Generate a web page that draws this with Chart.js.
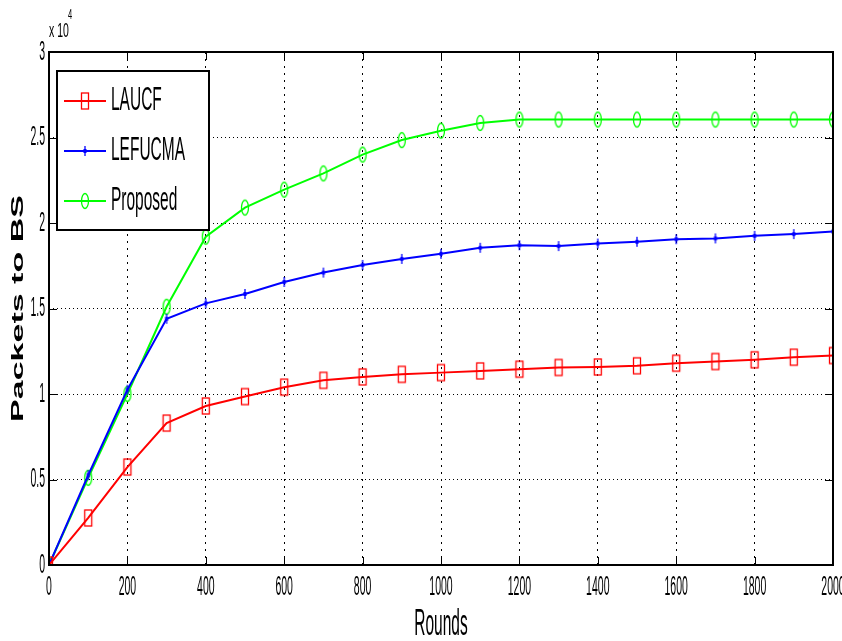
<!DOCTYPE html>
<html lang="en">
<head>
<meta charset="UTF-8">
<title>Packets to BS</title>
<style>
  body { margin: 0; background: #fff; }
  #wrap { width: 842px; height: 641px; }
</style>
<script src="https://cdn.jsdelivr.net/npm/chart.js"></script>
</head>
<body>
<div id="wrap"><canvas id="myChart" width="842" height="641"></canvas></div>
<script>
// data (packets, raw values; axis shown in x10^4)
var rounds = [0, 100, 200, 300, 400, 500, 600, 700, 800, 900, 1000, 1100, 1200, 1300, 1400, 1500, 1600, 1700, 1800, 1900, 2000];
var laucf = [0, 2750, 5730, 8300, 9300, 9850, 10400, 10800, 11000, 11150, 11250, 11350, 11450, 11550, 11580, 11650, 11800, 11900, 12000, 12150, 12250];
var lefucma = [0, 5250, 10250, 14400, 15300, 15850, 16550, 17100, 17550, 17900, 18200, 18550, 18700, 18650, 18800, 18900, 19050, 19100, 19250, 19350, 19500];
var proposed = [0, 5100, 10000, 15100, 19200, 20900, 21950, 22900, 24000, 24850, 25400, 25850, 26050, 26050, 26050, 26050, 26050, 26050, 26050, 26050, 26050];
var seriesNames = ['LAUCF', 'LEFUCMA', 'Proposed'];
var xTicks = [0, 200, 400, 600, 800, 1000, 1200, 1400, 1600, 1800, 2000];
var yTicks = [0, 5000, 10000, 15000, 20000, 25000, 30000];

var FONT = "'Liberation Sans', Arial, sans-serif";

function pts(arr) {
    return rounds.map(function (r, i) { return { x: r, y: arr[i] }; });
}

// the reference is stretched vertically, so text is drawn tall and narrow
function tallText(ctx, text, x, y, size, sy, align, weight) {
    ctx.save();
    ctx.translate(x, y);
    ctx.scale(1, sy);
    ctx.font = (weight || 'normal') + ' ' + size + 'px ' + FONT;
    ctx.textAlign = align || 'left';
    ctx.textBaseline = 'middle';
    ctx.fillStyle = '#000';
    ctx.fillText(text, 0, 0);
    ctx.restore();
}

// marker images (MATLAB-like, stretched tall)
function makeMarker(kind, color) {
    var c = document.createElement('canvas');
    c.width = 12; c.height = 20;
    var g = c.getContext('2d');
    g.strokeStyle = color; g.fillStyle = color; g.lineWidth = 1.3;
    if (kind === 'square') {
        g.strokeRect(2.5, 2, 7, 16);
    } else if (kind === 'circle') {
        g.beginPath();
        g.ellipse(6, 10, 3.5, 7.5, 0, 0, Math.PI * 2);
        g.stroke();
    } else {
        g.beginPath();
        g.moveTo(6, 5); g.lineTo(6, 15); g.stroke();
        g.fillRect(4.5, 8, 3, 4);
    }
    return c;
}

var colors = ['#ff0000', '#0000ff', '#00ff00'];
var markers = [makeMarker('square', colors[0]), makeMarker('plus', colors[1]), makeMarker('circle', colors[2])];

// frame, inner ticks, all text, legend box
var matlabPlugin = {
    id: 'matlab',
    afterDraw: function (chart) {
        var ctx = chart.ctx, a = chart.chartArea;
        var xs = chart.scales.x, ys = chart.scales.y;
        ctx.save();
        ctx.strokeStyle = '#000';
        ctx.lineWidth = 1;
        ctx.beginPath();
        xTicks.forEach(function (t) {
            var px = Math.round(xs.getPixelForValue(t)) + 0.5;
            ctx.moveTo(px, a.bottom); ctx.lineTo(px, a.bottom - 8);
            ctx.moveTo(px, a.top); ctx.lineTo(px, a.top + 8);
        });
        yTicks.forEach(function (t) {
            var py = Math.round(ys.getPixelForValue(t)) + 0.5;
            ctx.moveTo(a.left, py); ctx.lineTo(a.left + 8, py);
            ctx.moveTo(a.right, py); ctx.lineTo(a.right - 8, py);
        });
        ctx.stroke();
        ctx.lineWidth = 2;
        ctx.strokeRect(a.left, a.top, a.right - a.left, a.bottom - a.top);

        // tick labels
        xTicks.forEach(function (t) {
            tallText(ctx, String(t), xs.getPixelForValue(t), a.bottom + 22, 10.5, 2.6, 'center');
        });
        yTicks.forEach(function (t) {
            tallText(ctx, String(t / 10000), a.left - 4, ys.getPixelForValue(t), 10.5, 2.6, 'right');
        });

        // axis titles
        tallText(ctx, 'Rounds', (a.left + a.right) / 2, 625, 15.5, 2.4, 'center');
        ctx.save();
        ctx.translate(18, (a.top + a.bottom) / 2 + 0);
        ctx.rotate(-Math.PI / 2);
        ctx.scale(2.0, 1);
        ctx.font = 'bold 17px ' + FONT;
        ctx.textAlign = 'center';
        ctx.textBaseline = 'middle';
        ctx.fillStyle = '#000';
        ctx.fillText('Packets to BS', 0, 0);
        ctx.restore();

        // exponent
        tallText(ctx, 'x 10', a.left, 31, 10.5, 2.0, 'left');
        tallText(ctx, '4', a.left + 19, 15, 7.5, 2.0, 'left');

        // legend
        var lx = 57, ly = 71, lw = 152, lh = 159;
        ctx.fillStyle = '#fff';
        ctx.fillRect(lx, ly, lw, lh);
        ctx.lineWidth = 2;
        ctx.strokeStyle = '#000';
        ctx.strokeRect(lx, ly, lw, lh);
        chart.data.datasets.forEach(function (ds, i) {
            var cy = 101 + i * 50;
            ctx.strokeStyle = ds.borderColor;
            ctx.lineWidth = 2;
            ctx.beginPath();
            ctx.moveTo(64, cy); ctx.lineTo(106, cy);
            ctx.stroke();
            var m = markers[i];
            ctx.drawImage(m, 85 - m.width / 2, cy - m.height / 2);
            tallText(ctx, ds.label, 111, cy, 15.5, 2.2, 'left');
        });
        ctx.restore();
    }
};

var ctx = document.getElementById('myChart').getContext('2d');
var myChart = new Chart(ctx, {
    type: 'line',
    data: {
        datasets: [0, 1, 2].map(function (i) {
            return {
                label: seriesNames[i],
                data: pts([laucf, lefucma, proposed][i]),
                borderColor: colors[i],
                backgroundColor: colors[i],
                borderWidth: 2,
                pointStyle: markers[i],
                pointRadius: 6,
                tension: 0,
                fill: false
            };
        })
    },
    options: {
        responsive: false,
        animation: false,
        layout: { padding: { top: 52, right: 9, left: 0, bottom: 0 } },
        plugins: { legend: { display: false }, tooltip: { enabled: false } },
        scales: {
            x: {
                type: 'linear',
                min: 0, max: 2000,
                afterBuildTicks: function (s) { s.ticks = xTicks.map(function (v) { return { value: v }; }); },
                afterFit: function (s) { s.height = 76; s.paddingLeft = 0; s.paddingRight = 0; },
                grid: { color: '#000', lineWidth: 1, drawTicks: false },
                border: { display: false, dash: [2, 5] },
                ticks: { display: false }
            },
            y: {
                min: 0, max: 30000,
                afterBuildTicks: function (s) { s.ticks = yTicks.map(function (v) { return { value: v }; }); },
                afterFit: function (s) { s.width = 49; s.paddingTop = 0; s.paddingBottom = 0; },
                grid: { color: '#000', lineWidth: 1, drawTicks: false },
                border: { display: false, dash: [1, 3] },
                ticks: { display: false }
            }
        }
    },
    plugins: [matlabPlugin]
});
</script>
</body>
</html>
